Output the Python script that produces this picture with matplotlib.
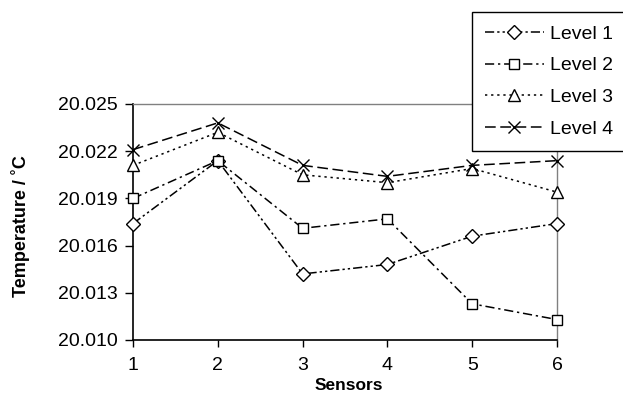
import matplotlib
matplotlib.use("Agg")
import matplotlib.pyplot as plt

sensors = [1, 2, 3, 4, 5, 6]
level1 = [20.0174, 20.0214, 20.0142, 20.0148, 20.0166, 20.0174]
level2 = [20.0190, 20.0214, 20.0171, 20.0177, 20.0123, 20.0113]
level3 = [20.0211, 20.0232, 20.0205, 20.0200, 20.0209, 20.0194]
level4 = [20.0221, 20.0238, 20.0211, 20.0204, 20.0211, 20.0214]
labels = ["Level 1", "Level 2", "Level 3", "Level 4"]
yticks = [20.010, 20.013, 20.016, 20.019, 20.022, 20.025]

plt.rcParams['font.family'] = ['Liberation Sans', 'DejaVu Sans']

W, H = 623, 403
fig = plt.figure(figsize=(W/100, H/100), dpi=100)
ax = fig.add_axes([133/W, (H-340)/H, (557-133)/W, (340-104)/H])

styles = [
    dict(marker='D', ms=7, dashes=[6, 2, 1.5, 2, 1.5, 2]),
    dict(marker='s', ms=7.5, dashes=[6, 2.5, 1.5, 2.5]),
    dict(marker='^', ms=8.5, dashes=[1.5, 2.5]),
    dict(marker='x', ms=9, dashes=[7, 3]),
]
series = [level1, level2, level3, level4]
handles = []
for vals, st, lab in zip(series, styles, labels):
    h, = ax.plot(sensors, vals, color='black', lw=1.1, marker=st['marker'],
                 ms=st['ms'], mfc='white', mec='black', mew=1.0,
                 dashes=st['dashes'], label=lab, clip_on=False, zorder=3)
    handles.append(h)

ax.set_xlim(1, 6)
ax.set_ylim(20.010, 20.025)
ax.set_xticks(sensors)
ax.set_yticks(yticks)
ax.set_yticklabels([f"{v:.3f}" for v in yticks])
ax.tick_params(axis='both', direction='out', width=1, labelsize=14, colors='black')
ax.tick_params(axis='y', length=6, pad=5)
ax.tick_params(axis='x', length=5, pad=7)

for s in ['left', 'bottom']:
    ax.spines[s].set_color('black')
    ax.spines[s].set_linewidth(1.2)
for s in ['top', 'right']:
    ax.spines[s].set_color('#808080')
    ax.spines[s].set_linewidth(1.0)

fig.text(349/W, 1 - 385/H, "Sensors", fontsize=12.5, fontweight='bold',
         ha='center', va='center')
fig.text(21/W, 1 - 226/H, "Temperature / ˚C", fontsize=13, fontweight='bold',
         ha='center', va='center', rotation=90)

leg = fig.legend(handles=handles, loc='upper left', bbox_to_anchor=(472/W, 1 - 12/H),
                 bbox_transform=fig.transFigure, fontsize=14, frameon=True, fancybox=False,
                 edgecolor='black', handlelength=3.0, handletextpad=0.35, labelspacing=0.72,
                 borderpad=0.68, borderaxespad=0, framealpha=1)
leg.get_frame().set_linewidth(1.0)

fig.savefig("out.png", dpi=100)
